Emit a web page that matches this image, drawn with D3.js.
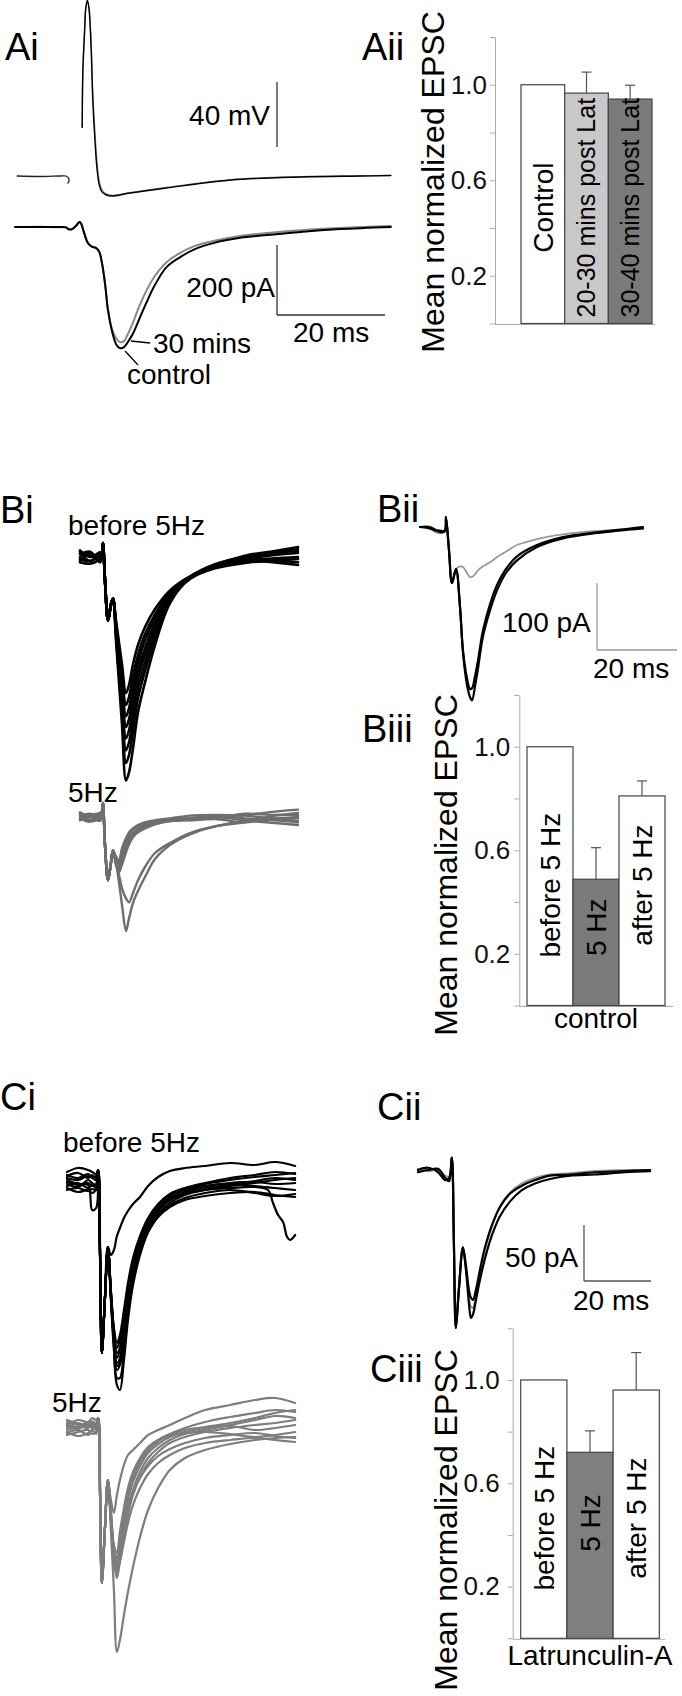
<!DOCTYPE html>
<html>
<head>
<meta charset="UTF-8">
<title>Latrunculin EPSC figure</title>
<style>
  body { margin: 0; background: #fff; }
  svg { display: block; }
</style>
</head>
<body>
<script src="https://d3js.org/d3.v7.min.js"></script>
<script>
// ---------- data (ms, mV, pA, normalized EPSC) ----------

// Ai: presynaptic spike (mV) and EPSC (pA), control vs 30 mins
var aiPreTime = [0.4, 4.6, 8.3, 9.4, 9.9, 10.0, 9.8];
var aiPreV = [0, -0.3, 0, 0, -1.2, -3.1, -4.3];
var aiApTime = [12.45, 12.5, 12.6, 12.9, 13.1, 13.4, 13.7, 14.1, 14.4, 14.8, 15.2, 15.6, 16.1, 16.9, 18, 21.3, 28, 40, 53, 64, 69.6];
var aiApControl = [30, 53, 68, 90, 103, 108, 103, 78, 47, 22, 4, -5.5, -9.8, -11.7, -12.3, -10.5, -7.4, -2.5, -0.6, 0, 0.3];
var aiAp30 = [30, 53, 68, 90, 103, 108, 104, 82, 52, 27, 8, -3, -8.5, -11, -12, -10.2, -7, -2.2, -0.4, 0.1, 0.4];
var aiEpscTime = [0, 4.6, 8.3, 9.4, 10, 10.6, 11.3, 11.9, 12.2, 12.8, 13.5, 14.3, 15, 15.6, 16.1, 16.7, 17.2, 18, 18.7, 19.4,
  20.2, 20.9, 21.9, 23.1, 24.4, 25.9, 28.1, 30.6, 33.3, 36.7, 41.7, 46.7, 52.8, 60.2, 69.6];
var aiEpscControl = [0, 0, 0, -1, -7, -6, 3, 14, 11, -17, -46, -57, -60, -71, -103, -166, -237, -300, -334, -346,
  -343, -329, -303, -260, -214, -166, -114, -86, -63, -46, -31, -23, -14, -6, 0];
var aiEpsc30 = [0, 1, -1, 0, -6, -5, 4, 13, 10, -16, -45, -56, -59, -70, -101, -163, -232, -294, -317, -329,
  -326, -306, -271, -223, -180, -140, -100, -74, -54, -40, -26, -17, -9, -3, 3];

// Aii
var aiiCats = ["Control", "20-30 mins post Lat", "30-40 mins post Lat"];
var aiiMeans = [1.0, 0.965, 0.94];
var aiiErrs = [0, 0.088, 0.058];

// Bi: single sweeps before 5Hz (black) and during 5Hz (grey)
var biTime = [0, 2.5, 5, 5.5, 5.75, 6.25, 7, 7.75, 8.25, 9, 9.75, 10.5, 11.5, 12.25, 13.25, 14.5, 16.25, 18.75, 22.5, 27.5, 33.75, 41.25, 48.75, 54.5];
var biBefore = [
  [0, 6, -4, 6, 21, -35, -95, -71, -62, -95, -128, -161, -204, -192, -161, -132, -105, -78, -50, -29, -14, -2, 8, 12],
  [8, -6, 3, 6, 21, -35, -95, -71, -62, -99, -135, -173, -222, -210, -179, -147, -116, -86, -53, -30, -15, -8, -5, -8],
  [-6, 5, -8, 6, 21, -35, -95, -71, -62, -102, -143, -185, -239, -227, -194, -158, -125, -92, -56, -30, -12, 2, 9, 15],
  [10, 0, 7, 6, 21, -35, -95, -71, -62, -107, -152, -195, -255, -243, -210, -170, -137, -99, -59, -32, -15, -6, -8, -12],
  [-8, -10, -2, 6, 21, -35, -95, -71, -62, -110, -159, -207, -272, -260, -225, -182, -147, -107, -62, -32, -14, -3, 3, 6],
  [4, 8, -6, 6, 21, -35, -95, -71, -62, -114, -167, -219, -290, -278, -243, -197, -159, -114, -65, -33, -17, -9, -5, -3],
  [-3, -6, 4, 6, 21, -35, -95, -71, -62, -119, -176, -233, -309, -297, -261, -212, -171, -122, -66, -30, -11, 0, 6, 9],
  [6, 3, -5, 6, 21, -35, -95, -71, -62, -125, -188, -251, -335, -323, -287, -233, -188, -132, -69, -32, -14, -5, -2, 0]
];
var biDuring = [
  [0, 5, -3, 8, 21, -42, -95, -68, -50, -62, -68, -50, -35, -26, -18, -14, -9, -6, -3, -2, 0, 3, 8, 11],
  [6, -4, 3, 8, 21, -42, -95, -68, -50, -68, -77, -62, -44, -32, -23, -17, -12, -8, -5, -2, 2, -2, -5, -8],
  [-5, 3, 6, 8, 21, -42, -95, -68, -50, -65, -72, -59, -42, -32, -24, -18, -14, -9, -5, -3, -2, 5, 3, 6],
  [4, -6, -2, 8, 21, -42, -95, -68, -50, -72, -83, -71, -53, -41, -30, -23, -17, -11, -6, -3, 0, -5, -9, -12],
  [-3, 2, -6, 8, 21, -42, -95, -68, -50, -59, -65, -47, -32, -23, -17, -12, -8, -5, -2, 2, 3, 2, -2, 0],
  [7, 0, 4, 8, 21, -42, -95, -68, -50, -69, -80, -68, -50, -38, -27, -20, -14, -9, -6, -5, -3, -8, -3, -6],
  [-2, -7, 1, 8, 21, -42, -95, -68, -50, -68, -87, -107, -122, -128, -114, -95, -75, -54, -39, -24, -14, -6, -2, -2],
  [2, 4, -4, 8, 21, -42, -95, -68, -50, -68, -98, -132, -171, -152, -129, -111, -90, -63, -42, -26, -14, -8, 2, 3]
];

// Bii: averages
var biiTime = [0, 2.5, 4.25, 5.5, 6.25, 6.5, 7.25, 8, 9, 10, 10.75, 11.75, 12.5, 13, 13.75, 14.5, 15.75, 17.5, 19.25, 21.25, 24.25, 29.25, 35.75, 44.25, 55.75];
var biiBefore = [0, -2, -6, -8, -5, 15, -35, -84, -63, -120, -189, -237, -255, -260, -239, -212, -164, -125, -95, -71, -50, -30, -17, -9, -2];
var biiAfter = [0, 0, -5, -6, -6, 15, -35, -84, -63, -120, -185, -227, -243, -242, -224, -200, -155, -116, -87, -65, -44, -27, -15, -8, 0];
var biiDuring = [0, -3, -9, -9, -6, 15, -35, -84, -63, -59, -60, -69, -75, -75, -71, -65, -59, -53, -45, -38, -27, -18, -11, -6, -2];

// Biii
var stimCats = ["before 5 Hz", "5 Hz", "after 5 Hz"];
var biiiMeans = [1.0, 0.488, 0.81];
var biiiErrs = [0, 0.122, 0.058];

// Ci: single sweeps in Latrunculin-A
var ciTime = [0, 3.3, 6.3, 7.5, 8.7, 9.3, 9.9, 10.4, 11.3, 12.2, 13.1, 14, 14.9, 15.8, 17, 18.2, 19.7, 21.8, 24.2, 27.2, 30.7, 35.2, 41.2, 48.7, 56.1, 62.1, 68.1];
var ciBefore = [
  [8, 12, 10, 8, 6, 10, -82, -173, -120, -67, -75, -70, -56, -48, -38, -31, -24, -17, -6, 3, 9, 12, 14, 17, 15, 18, 14],
  [2, 0, 4, 2, 0, 10, -82, -173, -120, -67, -120, -170, -205, -210, -180, -140, -105, -75, -52, -35, -23, -15, -10, -6, -3, 0, 2],
  [-2, -5, -3, -6, -4, 10, -82, -173, -120, -67, -118, -165, -198, -198, -170, -132, -98, -70, -48, -32, -20, -13, -8, -5, -1, 2, 0],
  [-6, -3, -8, -5, -8, 10, -82, -173, -120, -67, -116, -160, -190, -185, -158, -122, -92, -65, -45, -30, -19, -12, -6, -4, -6, -8, -10],
  [5, 2, 6, 3, 4, 10, -82, -173, -120, -67, -114, -158, -183, -178, -150, -116, -88, -62, -42, -27, -17, -10, -4, 0, 3, 5, 7],
  [-10, -8, -11, -9, -10, 10, -82, -173, -120, -67, -113, -155, -178, -170, -142, -110, -83, -58, -40, -26, -16, -10, -6, -3, -2, -4, -3],
  [0, -4, -5, -30, -28, 10, -82, -173, -120, -67, -112, -153, -173, -168, -145, -118, -93, -70, -52, -37, -27, -20, -16, -13, -12, -15, -17],
  [-4, -7, 0, -3, -5, 10, -82, -173, -120, -67, -111, -150, -168, -160, -138, -112, -88, -66, -49, -35, -25, -18, -13, -10, -13, -16, -14],
  [-8, -12, -10, -13, -9, 10, -82, -173, -120, -67, -110, -148, -163, -155, -130, -103, -78, -56, -38, -24, -14, -8, -3, 2, 5, 8, 6]
];
// one sweep with a late spontaneous event at the end
var ciDropTime = [0, 3.3, 6.3, 7.5, 8.7, 9.3, 9.9, 10.4, 11.3, 12.2, 13.1, 14, 14.9, 15.8, 17, 18.2, 19.7, 21.8, 24.2, 27.2, 30.7, 35.2, 41.2, 48.7, 56.1,
  60.0, 61.5, 63.0, 64.5, 65.7, 66.6, 68.1];
var ciDrop = [4, 7, 2, 5, 2, 10, -82, -173, -120, -67, -115, -160, -186, -182, -155, -120, -90, -64, -45, -30, -20, -14, -10, -8, -7,
  -10, -23, -35, -42, -57, -60, -55];
var ciDuring = [
  [2, 7, 5, 9, 7, 9, -73, -156, -103, -53, -73, -86, -68, -53, -38, -28, -23, -16, -8, -3, 2, 9, 17, 22, 27, 29, 24],
  [-3, 0, 2, -1, 3, 9, -73, -156, -103, -53, -103, -163, -225, -213, -188, -165, -140, -110, -83, -61, -43, -31, -23, -17, -13, -11, -10],
  [5, 2, -1, 3, 1, 9, -73, -156, -103, -53, -93, -133, -151, -133, -108, -88, -68, -50, -36, -25, -16, -10, -5, -1, 2, 4, 7],
  [-8, -5, -3, -7, -4, 9, -73, -156, -103, -53, -91, -129, -143, -125, -101, -81, -63, -45, -31, -21, -13, -7, -3, 2, 7, 11, 9],
  [-1, 4, 1, 6, 2, 9, -73, -156, -103, -53, -89, -126, -139, -118, -93, -73, -55, -39, -26, -17, -10, -5, -1, 1, -3, -1, 2],
  [-5, -9, -6, -3, -1, 9, -73, -156, -103, -53, -87, -123, -133, -113, -87, -67, -51, -35, -23, -14, -8, -3, 0, 4, 9, 14, 17],
  [1, -2, 3, 0, 4, 9, -73, -156, -103, -53, -92, -131, -146, -135, -115, -96, -78, -61, -47, -36, -28, -21, -16, -13, -11, -13, -15],
  [7, 3, 0, 5, 2, 9, -73, -156, -103, -53, -85, -121, -131, -111, -86, -65, -49, -33, -21, -13, -7, -1, 5, 10, 14, 17, 15],
  [-6, -3, -8, -4, -7, 9, -73, -156, -103, -53, -83, -118, -126, -105, -81, -61, -45, -31, -20, -13, -9, -6, -5, -7, -10, -8, -5],
  [3, 0, 5, 1, -1, 9, -73, -156, -103, -53, -88, -125, -137, -121, -99, -81, -65, -51, -39, -29, -22, -16, -11, -8, -6, -9, -11]
];

// Cii: averages
var ciiTime = [0, 3, 6, 8.1, 9.3, 10.1, 10.7, 11.3, 12.2, 13.4, 14.3, 15.2, 15.8, 16.4, 17.3, 18.5, 20, 22.1, 24.5, 27.5, 31, 34.9, 39.4, 45.4, 52.8, 61.8, 69.3];
var ciiBefore = [0, 2, -2, -9, -7, 11, -63, -141, -107, -69, -89, -119, -132, -129, -116, -98, -79, -58, -41, -28, -18, -12, -8, -5, -4, -2, -1];
var ciiAfter = [-2, 0, 1, -7, -10, 11, -63, -141, -107, -69, -85, -107, -114, -116, -107, -89, -69, -49, -33, -21, -14, -9, -5, -4, -2, -1, 0];
var ciiDuring = [1, -1, 0, -5, -6, 11, -61, -136, -104, -71, -88, -113, -122, -123, -112, -92, -71, -50, -32, -20, -12, -7, -4, -3, -1, 0, 0];

// Ciii
var ciiiMeans = [1.0, 0.72, 0.961];
var ciiiErrs = [0, 0.083, 0.145];

var yTicks = [0, 0.2, 0.4, 0.6, 0.8, 1.0, 1.2];
var yTickLabels = [0.2, 0.6, 1.0];

// ---------- drawing ----------
var FONT = "'Liberation Sans', Arial, Helvetica, sans-serif";

var svg = d3.select("body").append("svg")
  .attr("width", 682)
  .attr("height", 1696)
  .attr("font-family", FONT);

svg.append("rect").attr("width", 682).attr("height", 1696).attr("fill", "#fff");

function trace(xs, ys, times, vals, color, w) {
  var line = d3.line()
    .x(function(d, i) { return xs(times[i]); })
    .y(function(d) { return ys(d); })
    .curve(d3.curveCatmullRom.alpha(0.5));
  svg.append("path")
    .datum(vals)
    .attr("d", line)
    .attr("fill", "none")
    .attr("stroke", color)
    .attr("stroke-width", w)
    .attr("stroke-linejoin", "round")
    .attr("stroke-linecap", "round");
}

function label(txt, x, y, size, anchor) {
  return svg.append("text")
    .attr("x", x).attr("y", y)
    .attr("font-size", size)
    .attr("text-anchor", anchor || "start")
    .attr("fill", "#000")
    .text(txt);
}

// vertical (and optional horizontal) scale bar, lengths taken from the scales
function scaleBar(x0, yb, xs, ys, ms, amp, color) {
  var h = Math.abs(ys(amp) - ys(0));
  svg.append("line").attr("x1", x0).attr("x2", x0).attr("y1", yb - h).attr("y2", yb)
    .attr("stroke", color).attr("stroke-width", 1.3);
  if (ms) {
    svg.append("line").attr("x1", x0).attr("x2", x0 + xs(ms) - xs(0)).attr("y1", yb).attr("y2", yb)
      .attr("stroke", color).attr("stroke-width", 1.3);
  }
}

function yTitle(x, cy) {
  svg.append("text")
    .attr("transform", "translate(" + x + "," + cy + ") rotate(-90)")
    .attr("text-anchor", "middle")
    .attr("font-size", 32)
    .text("Mean normalized EPSC");
}

function barChart(o) {
  var y = d3.scaleLinear().domain([0, 1.2]).range([o.bottom, o.top]);
  var x = d3.scaleBand().domain(o.cats).range([o.left, o.right]);

  var axis = d3.axisLeft(y)
    .tickValues(yTicks)
    .tickSize(5)
    .tickSizeOuter(0)
    .tickPadding(o.pad)
    .tickFormat(function(d) { return yTickLabels.indexOf(d) >= 0 ? d.toFixed(1) : ""; });

  var ax = svg.append("g")
    .attr("transform", "translate(" + o.axisX + ",0)")
    .call(axis);
  ax.attr("font-size", 26).attr("font-family", FONT);
  ax.select(".domain").attr("stroke", "#aaa");
  ax.selectAll(".tick line").attr("stroke", "#aaa");
  ax.selectAll(".tick text").attr("fill", "#111");

  svg.append("line")
    .attr("x1", o.axisX).attr("x2", o.axisEnd)
    .attr("y1", y(0) + 1).attr("y2", y(0) + 1)
    .attr("stroke", "#aaa").attr("stroke-width", 1);

  svg.selectAll(null).data(o.means).enter().append("rect")
    .attr("x", function(d, i) { return x(o.cats[i]); })
    .attr("y", function(d) { return y(d); })
    .attr("width", x.bandwidth())
    .attr("height", function(d) { return y(0) - y(d); })
    .attr("fill", function(d, i) { return o.fills[i]; })
    .attr("stroke", "#444")
    .attr("stroke-width", 1.2);

  o.means.forEach(function(m, i) {
    var e = o.errs[i];
    if (!e) return;
    var cx = x(o.cats[i]) + x.bandwidth() / 2;
    svg.append("line").attr("x1", cx).attr("x2", cx).attr("y1", y(m)).attr("y2", y(m + e))
      .attr("stroke", "#555").attr("stroke-width", 1.2);
    svg.append("line").attr("x1", cx - 5).attr("x2", cx + 5).attr("y1", y(m + e)).attr("y2", y(m + e))
      .attr("stroke", "#555").attr("stroke-width", 1.2);
  });

  o.cats.forEach(function(c, i) {
    var cx = x(c) + x.bandwidth() / 2;
    var cy = y(Math.min(o.labelAt, 0.62 * o.means[i]));
    svg.append("text")
      .attr("transform", "translate(" + cx + "," + cy + ") rotate(-90)")
      .attr("text-anchor", "middle")
      .attr("dy", "0.35em")
      .attr("font-size", o.labelSizes[i])
      .text(c);
  });

  if (o.xlabel) {
    label(o.xlabel, (o.left + o.right) / 2, o.xlabelY, 28, "middle");
  }
}

// ---- panel A ----
var xA = d3.scaleLinear().domain([0, 70]).range([15, 393]);
var yAv = d3.scaleLinear().domain([0, 40]).range([176, 111]);
var yAi = d3.scaleLinear().domain([0, -200]).range([227, 297]);

trace(xA, yAv, aiPreTime, aiPreV, "#222", 1.3);
trace(xA, yAv, aiApTime, aiAp30, "#888", 1.4);
trace(xA, yAv, aiApTime, aiApControl, "#000", 1.4);
trace(xA, yAi, aiEpscTime, aiEpsc30, "#888", 2);
trace(xA, yAi, aiEpscTime, aiEpscControl, "#000", 2);

scaleBar(277, 147, xA, yAv, 0, 40, "#333");
scaleBar(277, 315, xA, yAi, 20, -200, "#333");
label("40 mV", 270, 125, 28, "end");
label("200 pA", 275, 297, 28, "end");
label("20 ms", 293, 342, 28);
label("30 mins", 153, 353, 28);
label("control", 127, 384, 28);
svg.append("line").attr("x1", 131).attr("y1", 341).attr("x2", 150).attr("y2", 343).attr("stroke", "#000").attr("stroke-width", 1.3);
svg.append("line").attr("x1", 125).attr("y1", 351).attr("x2", 138).attr("y2", 365).attr("stroke", "#000").attr("stroke-width", 1.3);

label("Ai", 5, 60, 38);
label("Aii", 362, 60, 38);
yTitle(444, 182);
barChart({
  cats: aiiCats, means: aiiMeans, errs: aiiErrs,
  fills: ["#ffffff", "#c8c8c8", "#7a7a7a"],
  labelSizes: [28, 25, 25], labelAt: 0.485,
  bottom: 323.5, top: 37, left: 521, right: 652, axisX: 495, axisEnd: 655, pad: 3
});

// ---- panel B ----
var xB = d3.scaleLinear().domain([0, 60]).range([80, 320]);
var yBb = d3.scaleLinear().domain([0, -100]).range([557, 623.67]);
var yBg = d3.scaleLinear().domain([0, -100]).range([817, 883.67]);

biBefore.forEach(function(v) { trace(xB, yBb, biTime, v, "#000", 2.6); });
biDuring.forEach(function(v) { trace(xB, yBg, biTime, v, "#6e6e6e", 2.4); });
label("Bi", 0, 523, 38);
label("before 5Hz", 68, 535, 28);
label("5Hz", 68, 802, 28);

var xBii = d3.scaleLinear().domain([0, 60]).range([420, 660]);
var yBii = d3.scaleLinear().domain([0, -100]).range([527, 593.67]);
trace(xBii, yBii, biiTime, biiDuring, "#9a9a9a", 1.8);
trace(xBii, yBii, biiTime, biiBefore, "#000", 2.2);
trace(xBii, yBii, biiTime, biiAfter, "#000", 2.2);
scaleBar(597, 650, xBii, yBii, 20, -100, "#999");
label("100 pA", 502, 632, 28);
label("20 ms", 593, 678, 28);
label("Bii", 377, 522, 38);

label("Biii", 362, 742, 38);
yTitle(457, 865);
barChart({
  cats: stimCats, means: biiiMeans, errs: biiiErrs,
  fills: ["#ffffff", "#7a7a7a", "#ffffff"],
  labelSizes: [28, 28, 28], labelAt: 0.465,
  bottom: 1005.5, top: 695, left: 527, right: 665, axisX: 519.3, axisEnd: 673, pad: 4,
  xlabel: "control", xlabelY: 1028
});

// ---- panel C ----
var xC = d3.scaleLinear().domain([0, 70]).range([67, 301.5]);
var yCb = d3.scaleLinear().domain([0, -100]).range([1180, 1280]);
var yCg = d3.scaleLinear().domain([0, -100]).range([1427, 1527]);

ciBefore.forEach(function(v) { trace(xC, yCb, ciTime, v, "#000", 2.2); });
trace(xC, yCb, ciDropTime, ciDrop, "#000", 2.2);
ciDuring.forEach(function(v) { trace(xC, yCg, ciTime, v, "#7d7d7d", 2.2); });
label("Ci", 0, 1110, 38);
label("before 5Hz", 63, 1152, 28);
label("5Hz", 52, 1412, 28);

var xCii = d3.scaleLinear().domain([0, 70]).range([418, 652.5]);
var yCii = d3.scaleLinear().domain([0, -50]).range([1170, 1226]);
trace(xCii, yCii, ciiTime, ciiDuring, "#999", 2);
trace(xCii, yCii, ciiTime, ciiBefore, "#000", 2.2);
trace(xCii, yCii, ciiTime, ciiAfter, "#000", 2.2);
scaleBar(584, 1281, xCii, yCii, 20, -50, "#555");
label("50 pA", 505, 1267, 28);
label("20 ms", 573, 1310, 28);
label("Cii", 377, 1120, 38);

label("Ciii", 370, 1382, 38);
yTitle(457, 1520);
barChart({
  cats: stimCats, means: ciiiMeans, errs: ciiiErrs,
  fills: ["#ffffff", "#7f7f7f", "#ffffff"],
  labelSizes: [28, 28, 28], labelAt: 0.465,
  bottom: 1638.3, top: 1328.3, left: 520.7, right: 659.3, axisX: 512.7, axisEnd: 665, pad: 8,
  xlabel: "Latrunculin-A", xlabelY: 1665
});
</script>
</body>
</html>
